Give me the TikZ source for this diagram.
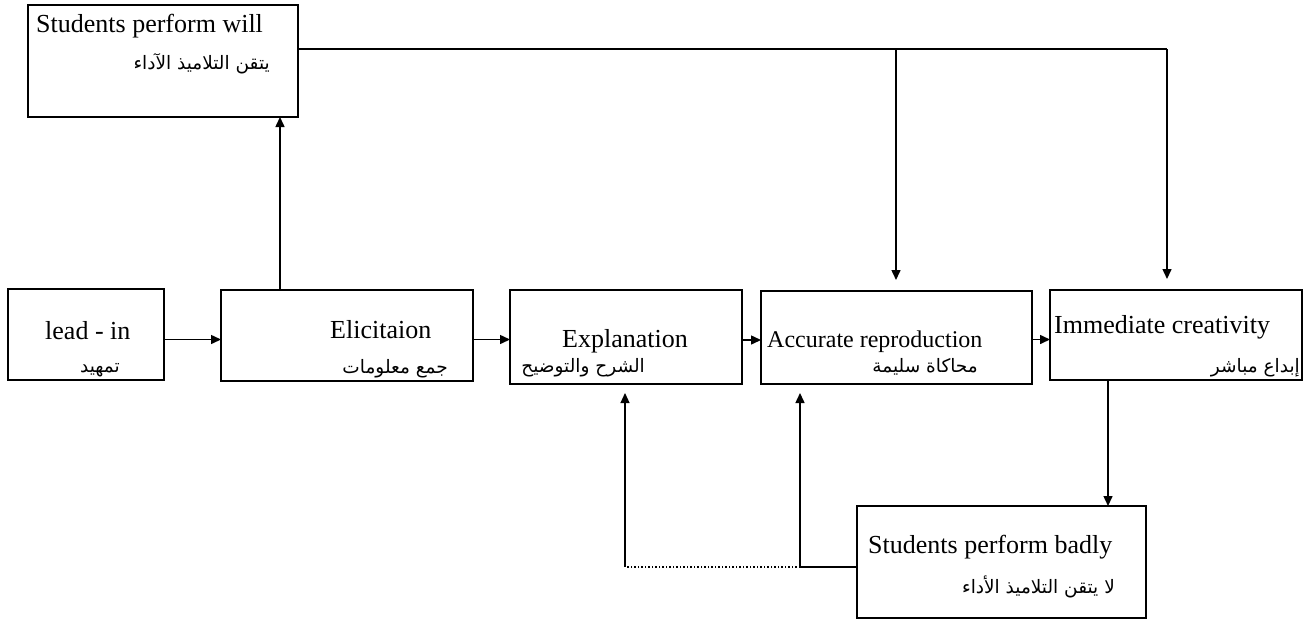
\documentclass[tikz,border=0pt]{standalone}
\usepackage{fontspec}
\setmainfont{Liberation Serif}
\newfontfamily\arfont[Script=Arabic]{DejaVu Sans}
\TeXXeTstate=1
\usetikzlibrary{arrows.meta}
\tikzset{
  box/.style={draw, line width=2.2pt, inner sep=0pt, outer sep=0pt},
  conn/.style={line width=1.5pt},
  arr/.style={conn, -{Triangle[length=10pt,width=9pt]}},
  en/.style={inner sep=0pt, font=\fontsize{26}{30}\selectfont},
  ar/.style={inner sep=0pt, font=\arfont\fontsize{18.5}{22}\selectfont},
}
\begin{document}
\begin{tikzpicture}[x=1pt,y=-1pt]
\useasboundingbox (0,0) rectangle (1313,624);
% boxes
\node[box, minimum width=270pt, minimum height=112pt] (will) at (163,61) {};
\node[box, minimum width=156pt, minimum height=91pt] (lead) at (86,334.5) {};
\node[box, minimum width=252pt, minimum height=91pt] (elic) at (347,335.5) {};
\node[box, minimum width=232pt, minimum height=94pt] (expl) at (626,337) {};
\node[box, minimum width=271pt, minimum height=93pt] (accu) at (896.5,337.5) {};
\node[box, minimum width=252pt, minimum height=90pt] (imme) at (1176,335) {};
\node[box, minimum width=289pt, minimum height=112pt] (bad) at (1001.5,562) {};
% texts
\node[en, anchor=base west] (willE) at (36,32) {Students perform will};
\node[ar, anchor=base east] (willA) at (270,69) {\beginR يتقن التلاميذ الآداء\endR};
\node[en, anchor=base west] (leadE) at (45,339) {lead - in};
\node[ar, anchor=base east] (leadA) at (120,372) {\beginR تمهيد\endR};
\node[en, anchor=base west] (elicE) at (330,338) {Elicitaion};
\node[ar, anchor=base east] (elicA) at (448,373) {\beginR جمع معلومات\endR};
\node[en, anchor=base east] (explE) at (688,347) {Explanation};
\node[ar, anchor=base east] (explA) at (645,372) {\beginR الشرح والتوضيح\endR};
\node[en, anchor=base west, font=\fontsize{24}{28}\selectfont] (accuE) at (767,347) {Accurate reproduction};
\node[ar, anchor=base east] (accuA) at (978,372) {\beginR محاكاة سليمة\endR};
\node[en, anchor=base west] (immeE) at (1054,333) {Immediate creativity};
\node[ar, anchor=base east] (immeA) at (1300,372) {\beginR إبداع مباشر\endR};
\node[en, anchor=base west] (badE) at (868,553) {Students perform badly};
\node[ar, anchor=base east] (badA) at (1115,593) {\beginR لا يتقن التلاميذ الأداء\endR};
% horizontal chain
\draw[arr] ([yshift=-5pt]lead.east) -- ([yshift=-5pt]lead.east -| elic.west);
\draw[arr] ([yshift=-4pt]elic.east) -- ([yshift=-4pt]elic.east -| expl.west);
\draw[arr] ([yshift=-3pt]expl.east) -- ([yshift=-3pt]expl.east -| accu.west);
\draw[arr] ([yshift=-2pt]accu.east) -- ([yshift=-2pt]accu.east -| imme.west);
% up to top box
\draw[arr] ([xshift=-67pt]elic.north) -- ([xshift=-67pt]elic.north |- will.south);
% top line
\coordinate (j1) at (896,49);
\coordinate (j2) at (1167,49);
\draw[conn, line width=2pt] ([yshift=12pt]will.east) -- (j2);
\draw[arr, shorten >=11pt] (j2) -- (j2 |- imme.north);
\draw[arr, shorten >=11pt] (j1) -- (j1 |- accu.north);
% down to bad
\draw[arr] ([xshift=-68pt]imme.south) -- ([xshift=-68pt]imme.south |- bad.north);
% feedback
\coordinate (k1) at (800,567);
\coordinate (k2) at (625,567);
\draw[conn, line width=2pt] ([yshift=-5pt]bad.west) -- (k1);
\draw[arr, shorten >=9pt] (k1) -- (k1 |- accu.south);
\draw[conn, dotted] (k1) -- (k2);
\draw[arr, line width=1.2pt, shorten >=9pt] (k2) -- (k2 |- expl.south);
\end{tikzpicture}
\end{document}
